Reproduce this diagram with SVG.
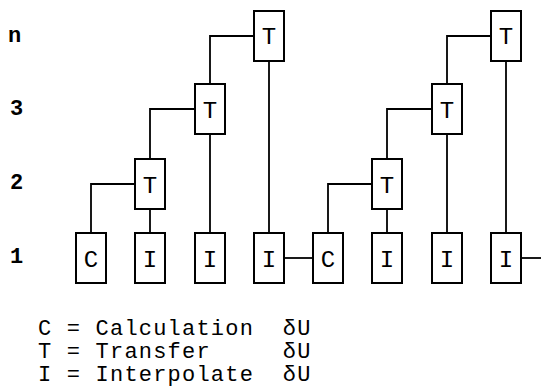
<svg xmlns="http://www.w3.org/2000/svg" width="541" height="388" viewBox="0 0 541 388">
<style>
.box{fill:#fff;stroke:#000;stroke-width:2}
.lbl{font-family:"Liberation Mono","Courier New",monospace;font-size:24px;fill:#000;text-anchor:middle}
.row{font-family:"Liberation Mono","Courier New",monospace;font-size:22px;font-weight:bold;fill:#000}
.leg{font-family:"Liberation Mono","Courier New",monospace;font-size:22px;letter-spacing:1.2px;fill:#000}
.con{fill:none;stroke:#000;stroke-width:1.8}
</style>
<rect width="541" height="388" fill="#fff"/>
<g id="rows">
<text class="row" x="8" y="42">n</text>
<text class="row" x="10" y="115">3</text>
<text class="row" x="10" y="189">2</text>
<text class="row" x="10" y="263">1</text>
</g>
<g id="connectors">
<path class="con" d="M91,233 V184 H135"/>
<path class="con" d="M150,209 V233"/>
<path class="con" d="M150,159 V109 H195"/>
<path class="con" d="M210,134 V233"/>
<path class="con" d="M210,84 V36 H254"/>
<path class="con" d="M269,61 V233"/>
<path class="con" d="M284,258 H313"/>
<path class="con" d="M328,233 V184 H372"/>
<path class="con" d="M387,209 V233"/>
<path class="con" d="M387,159 V109 H432"/>
<path class="con" d="M447,134 V233"/>
<path class="con" d="M447,84 V36 H491"/>
<path class="con" d="M506,61 V233"/>
<path class="con" d="M521,258 H541"/>
</g>
<g id="C1"><rect class="box" x="76" y="233" width="30" height="50"/><text class="lbl" x="91" y="267">C</text></g>
<g id="I1"><rect class="box" x="135" y="233" width="30" height="50"/><text class="lbl" x="150" y="267">I</text></g>
<g id="I2"><rect class="box" x="195" y="233" width="30" height="50"/><text class="lbl" x="210" y="267">I</text></g>
<g id="I3"><rect class="box" x="254" y="233" width="30" height="50"/><text class="lbl" x="269" y="267">I</text></g>
<g id="T2a"><rect class="box" x="135" y="159" width="30" height="50"/><text class="lbl" x="150" y="193">T</text></g>
<g id="T3a"><rect class="box" x="195" y="84" width="30" height="50"/><text class="lbl" x="210" y="118">T</text></g>
<g id="Tna"><rect class="box" x="254" y="11" width="30" height="50"/><text class="lbl" x="269" y="44">T</text></g>
<g id="C2"><rect class="box" x="313" y="233" width="30" height="50"/><text class="lbl" x="328" y="267">C</text></g>
<g id="I4"><rect class="box" x="372" y="233" width="30" height="50"/><text class="lbl" x="387" y="267">I</text></g>
<g id="I5"><rect class="box" x="432" y="233" width="30" height="50"/><text class="lbl" x="447" y="267">I</text></g>
<g id="I6"><rect class="box" x="491" y="233" width="30" height="50"/><text class="lbl" x="506" y="267">I</text></g>
<g id="T2b"><rect class="box" x="372" y="159" width="30" height="50"/><text class="lbl" x="387" y="193">T</text></g>
<g id="T3b"><rect class="box" x="432" y="84" width="30" height="50"/><text class="lbl" x="447" y="118">T</text></g>
<g id="Tnb"><rect class="box" x="491" y="11" width="30" height="50"/><text class="lbl" x="506" y="44">T</text></g>
<g id="legend">
<text class="leg" x="38" y="335" xml:space="preserve">C = Calculation  δU</text>
<text class="leg" x="38" y="358" xml:space="preserve">T = Transfer     δU</text>
<text class="leg" x="38" y="381" xml:space="preserve">I = Interpolate  δU</text>
</g>
</svg>
